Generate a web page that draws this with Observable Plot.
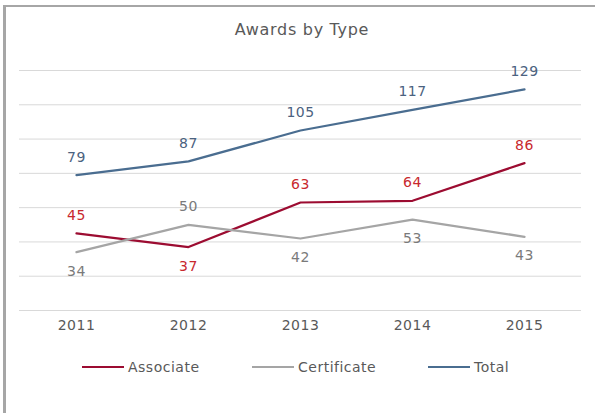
<!DOCTYPE html>
<html>
<head>
<meta charset="utf-8">
<script src="https://cdn.jsdelivr.net/npm/d3@7"></script>
<script src="https://cdn.jsdelivr.net/npm/@observablehq/plot@0.6"></script>
<style>
  body { margin: 0; background: #fff; }
  #frame {
    position: relative; width: 595px; height: 413px; overflow: hidden;
    font-family: "DejaVu Sans", sans-serif; background: #fff;
  }
  #edge {
    position: absolute; left: 3px; top: 5px; right: -10px; bottom: -10px;
    border-top: 2px solid #a6a6a6; border-left: 3px solid #a6a6a6;
  }
  #title {
    position: absolute; left: 0; width: 604px; top: 20px; text-align: center;
    font-size: 16px; letter-spacing: 0.7px; color: #595959; line-height: 20px;
  }
  #chart { position: absolute; left: 0; top: 56px; }
  .key { position: absolute; top: 358px; height: 18px; display: flex; align-items: center;
         font-size: 14px; letter-spacing: 0.5px; color: #595959; }
  .key i { display: inline-block; width: 42px; height: 2.25px; margin-right: 4px; }
</style>
</head>
<body>
<div id="frame">
  <div id="edge"></div>
  <div id="title">Awards by Type</div>
  <div id="chart"></div>
  <div id="legend"></div>
</div>
<script>
// Award counts by year
const years = ["2011", "2012", "2013", "2014", "2015"];
const associate = [45, 37, 63, 64, 86];
const certificate = [34, 50, 42, 53, 43];
const total = [79, 87, 105, 117, 129];

// Which side of the point each value label sits on
const associateSide = ["above", "below", "above", "above", "above"];
const certificateSide = ["below", "above", "below", "below", "below"];
const totalSide = ["above", "above", "above", "above", "above"];

const seriesNames = ["Associate", "Certificate", "Total"];
const lineColors = ["#9c0c31", "#a5a5a5", "#4a6d90"];
const labelColors = ["#c8282e", "#7a7a7a", "#4b6280"];
const legendX = [82, 252, 428];

const gridValues = [0, 20, 40, 60, 80, 100, 120, 140];

const seriesValues = [associate, certificate, total];
const seriesSides = [associateSide, certificateSide, totalSide];
const rows = seriesNames.flatMap((name, s) =>
  years.map((year, i) => ({series: name, year, value: seriesValues[s][i], side: seriesSides[s][i]}))
);

const labelMarks = seriesNames.flatMap((name, s) => [
  Plot.text(rows.filter(d => d.series === name && d.side === "above"),
    {x: "year", y: "value", text: d => String(d.value), dy: -18, fill: labelColors[s]}),
  Plot.text(rows.filter(d => d.series === name && d.side === "below"),
    {x: "year", y: "value", text: d => String(d.value), dy: 19, fill: labelColors[s]})
]);

const chart = Plot.plot({
  width: 595,
  height: 290,
  marginTop: 14,
  marginBottom: 36,
  marginLeft: 19,
  marginRight: 14,
  style: {fontFamily: "DejaVu Sans, sans-serif", fontSize: "14px", letterSpacing: "0.5px", background: "transparent"},
  x: {type: "point", domain: years, padding: 0.5, label: null},
  y: {domain: [0, 140], axis: null},
  color: {domain: seriesNames, range: lineColors},
  marks: [
    Plot.ruleY(gridValues, {stroke: "#d9d9d9", strokeWidth: 1}),
    Plot.axisX({tickSize: 0, tickPadding: 10, fill: "#595959", label: null}),
    Plot.line(rows, {x: "year", y: "value", z: "series", stroke: "series", strokeWidth: 2.25}),
    ...labelMarks
  ]
});
document.getElementById("chart").appendChild(chart);

const legend = document.getElementById("legend");
seriesNames.forEach((name, s) => {
  const item = document.createElement("div");
  item.className = "key";
  item.style.left = legendX[s] + "px";
  const swatch = document.createElement("i");
  swatch.style.background = lineColors[s];
  item.appendChild(swatch);
  item.appendChild(document.createTextNode(name));
  legend.appendChild(item);
});
</script>
</body>
</html>
